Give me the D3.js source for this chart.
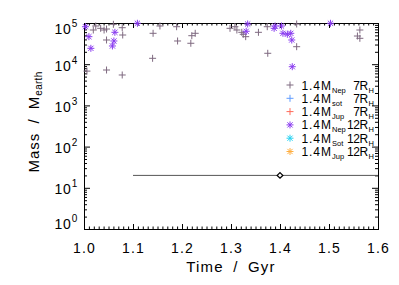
<!DOCTYPE html>
<html>
<head>
<meta charset="utf-8" />
<script src="https://cdnjs.cloudflare.com/ajax/libs/d3/7.8.5/d3.min.js"></script>
<style>
  body { margin: 0; background: #fff; }
  text { font-family: 'Liberation Sans', Arial, sans-serif; fill: #000; }
  .axis path, .axis line { stroke: #000; stroke-width: 1; }
</style>
</head>
<body>
<script>
// grey "+" : 1.4 M_Nep, 7 R_H
const nep7Time = [1.006, 1.019, 1.024, 1.034, 1.041, 1.046, 1.060, 1.078, 1.046, 1.079,
  1.141, 1.155, 1.189, 1.191, 1.140, 1.046, 1.078, 1.220, 1.227, 1.218,
  1.298, 1.308, 1.312, 1.322, 1.325, 1.330, 1.356, 1.374, 1.375, 1.434,
  1.563, 1.558, 1.563, 1.434];
const nep7Mass = [6800, 67600, 84600, 74300, 67600, 71500, 93000, 76900, 38700, 51100,
  56200, 84600, 81300, 36600, 13900, 7230, 5470, 49200, 56200, 32200,
  74300, 81300, 67600, 59400, 53200, 46600, 59400, 81300, 18400, 26600,
  67600, 48300, 42500, 94600];
// purple asterisk : 1.4 M_Nep, 12 R_H
const nep12Time = [1.003, 1.010, 1.014, 1.063, 1.061, 1.058, 1.109, 1.334, 1.331, 1.388,
  1.390, 1.403, 1.406, 1.415, 1.422, 1.424, 1.425, 1.503];
const nep12Mass = [81300, 46600, 24300, 59400, 36600, 27700, 98400, 94600, 62900, 74300,
  84600, 84600, 56200, 53200, 56200, 38700, 8700, 98400];

// reference line and point
const lineTime = [1.1, 1.6];
const lineMass = 20;
const pointTime = 1.4;

const xTicks = [1.0, 1.1, 1.2, 1.3, 1.4, 1.5, 1.6];
const yExps = [0, 1, 2, 3, 4, 5];

const legendMass = ["Nep", "sot", "Jup", "Nep", "Sot", "Jup"];
const legendRad = ["7", "7", "7", "12", "12", "12"];
const legendShape = ["plus", "plus", "plus", "star", "star", "star"];
const legendColor = ["#7f6a80", "#5f9bff", "#ff6a5a", "#8a3cf0", "#27d3f2", "#ffae40"];

const w = 399, h = 285;
const pLeft = 84, pRight = 378, pTop = 23, pBottom = 229;

const svg = d3.select("body").append("svg")
  .attr("width", w).attr("height", h);

const x = d3.scaleLinear().domain([1.0, 1.6]).range([pLeft, pRight]);
const y = d3.scaleLog().domain([1, 1e5]).range([pBottom, pTop]);

const minorX = d3.range(100, 161).map(d => d / 100);
const minorY = [];
for (let e = 0; e < 5; e++) for (let k = 2; k < 10; k++) minorY.push(k * Math.pow(10, e));

// frame + ticks
function addAxis(gen, tr) {
  return svg.append("g").attr("class", "axis").attr("transform", tr).call(gen);
}
const xb = addAxis(d3.axisBottom(x).tickValues(xTicks).tickSize(-5).tickPadding(14)
  .tickFormat(d3.format(".1f")), `translate(0,${pBottom})`);
xb.selectAll("text").attr("font-size", 14).attr("letter-spacing", 1.2);
addAxis(d3.axisBottom(x).tickValues(minorX).tickSize(-2.5).tickFormat(""), `translate(0,${pBottom})`);
addAxis(d3.axisTop(x).tickValues(xTicks).tickSize(-5).tickFormat(""), `translate(0,${pTop})`);
addAxis(d3.axisTop(x).tickValues(minorX).tickSize(-2.5).tickFormat(""), `translate(0,${pTop})`);

const yl = addAxis(d3.axisLeft(y).tickValues(yExps.map(e => Math.pow(10, e))).tickSize(-6).tickPadding(6)
  .tickFormat(""), `translate(${pLeft},0)`);
addAxis(d3.axisLeft(y).tickValues(minorY).tickSize(-3).tickFormat(""), `translate(${pLeft},0)`);
addAxis(d3.axisRight(y).tickValues(yExps.map(e => Math.pow(10, e))).tickSize(-6).tickFormat(""), `translate(${pRight},0)`);
addAxis(d3.axisRight(y).tickValues(minorY).tickSize(-3).tickFormat(""), `translate(${pRight},0)`);

yl.selectAll(".tick").each(function(d) {
  const e = Math.round(Math.log10(d));
  const shift = e === 5 ? 10 : e === 0 ? -1 : 6;
  const t = d3.select(this).select("text").attr("font-size", 14)
    .attr("dy", null).attr("y", shift).attr("letter-spacing", 0.8);
  t.append("tspan").text("10");
  t.append("tspan").attr("font-size", 10).attr("dy", -7).text(e);
});

svg.selectAll(".axis path.domain").attr("stroke-width", 1.2);

// axis titles
svg.append("text")
  .attr("x", (pLeft + pRight) / 2).attr("y", 272)
  .attr("text-anchor", "middle").attr("font-size", 15)
  .attr("letter-spacing", 1.2).attr("word-spacing", 4)
  .text("Time / Gyr");

const yt = svg.append("text")
  .attr("transform", `translate(39,${(pTop + pBottom) / 2 - 4}) rotate(-90)`)
  .attr("text-anchor", "middle").attr("font-size", 15)
  .attr("letter-spacing", 1).attr("word-spacing", 4);
yt.append("tspan").text("Mass / M");
yt.append("tspan").attr("font-size", 10).attr("dy", 3).attr("letter-spacing", 0.3).text("earth");

// markers
const plusPath = "M-3.5,0H3.5M0,-3.5V3.5";
const starPath = "M-3.5,0H3.5M0,-3.5V3.5M-2.6,-2.6L2.6,2.6M-2.6,2.6L2.6,-2.6";

svg.append("g").selectAll("path")
  .data(d3.zip(nep7Time, nep7Mass)).join("path")
  .attr("d", plusPath)
  .attr("transform", d => `translate(${x(d[0])},${y(d[1])})`)
  .attr("stroke", legendColor[0]).attr("stroke-width", 1).attr("fill", "none");

svg.append("g").selectAll("path")
  .data(d3.zip(nep12Time, nep12Mass)).join("path")
  .attr("d", starPath)
  .attr("transform", d => `translate(${x(d[0])},${y(d[1])})`)
  .attr("stroke", legendColor[3]).attr("stroke-width", 1).attr("fill", "none");

// reference line + diamond
svg.append("line")
  .attr("x1", x(lineTime[0])).attr("x2", x(lineTime[1]))
  .attr("y1", y(lineMass)).attr("y2", y(lineMass))
  .attr("stroke", "#555").attr("stroke-width", 1);
svg.append("path")
  .attr("d", "M0,-2.8L2.8,0L0,2.8L-2.8,0Z")
  .attr("transform", `translate(${x(pointTime)},${y(lineMass)})`)
  .attr("fill", "#fff").attr("stroke", "#000").attr("stroke-width", 1.3);

// legend
const lg = svg.append("g");
legendMass.forEach((m, i) => {
  const yy = 85 + i * 13.3;
  lg.append("path")
    .attr("d", legendShape[i] === "plus" ? plusPath : starPath)
    .attr("transform", `translate(290,${yy})`)
    .attr("stroke", legendColor[i]).attr("fill", "none");
  lg.append("text").attr("x", 301.5).attr("y", yy + 4.5).attr("font-size", 12)
    .attr("letter-spacing", 0.9).text("1.4M");
  lg.append("text").attr("x", 332).attr("y", yy + 7.5).attr("font-size", 7.5)
    .text(m);
  lg.append("text").attr("x", 368).attr("y", yy + 4.5)
    .attr("font-size", 12).attr("text-anchor", "end").attr("letter-spacing", -0.3)
    .text(legendRad[i] + "R");
  lg.append("text").attr("x", 368.5).attr("y", yy + 7.5)
    .attr("font-size", 7.5).text("H");
});
</script>
</body>
</html>
